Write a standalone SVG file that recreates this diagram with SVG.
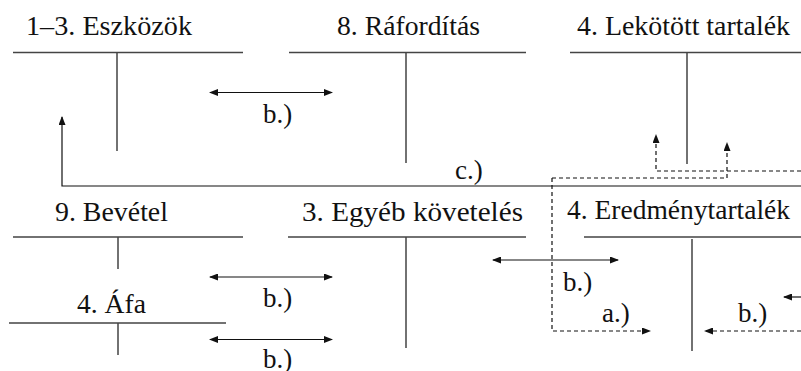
<svg xmlns="http://www.w3.org/2000/svg" width="801" height="371" viewBox="0 0 801 371" font-family="Liberation Serif, DejaVu Serif, Times New Roman, serif">
<style>
text{fill:#111}
.h{font-size:28px}
.l{font-size:27px}
.t{stroke:#444;stroke-width:1.5;fill:none}
.a{stroke:#111;stroke-width:1.2;fill:none}
.d{stroke:#111;stroke-width:1.2;fill:none;stroke-dasharray:4 3}
</style>
<defs>
<marker id="ah" markerUnits="userSpaceOnUse" markerWidth="9" markerHeight="7" refX="8" refY="3.5" orient="auto-start-reverse">
<path d="M0,0 L9,3.5 L0,7 Z" fill="#111"/>
</marker>
</defs>
<rect width="801" height="371" fill="#fff"/>

<g id="eszkozok">
<text class="h" font-family="Liberation Serif, serif" x="26" y="35" textLength="166" lengthAdjust="spacingAndGlyphs">1–3. Eszközök</text>
<path class="t" d="M13,52.5 H243 M117,52.5 V151"/>
</g>
<g id="raforditas">
<text class="h" font-family="Liberation Serif, serif" x="337" y="35" textLength="143" lengthAdjust="spacingAndGlyphs">8. Ráfordítás</text>
<path class="t" d="M289,52.5 H526 M406,52.5 V163"/>
</g>
<g id="lekotott">
<text class="h" font-family="Liberation Serif, serif" x="577" y="35" textLength="213" lengthAdjust="spacingAndGlyphs">4. Lekötött tartalék</text>
<path class="t" d="M570,52.5 H801 M687,52.5 V164"/>
</g>
<g id="bevetel">
<text class="h" font-family="Liberation Serif, serif" x="55" y="221" textLength="113" lengthAdjust="spacingAndGlyphs">9. Bevétel</text>
<path class="t" d="M13,237 H243 M118,237 V269"/>
</g>
<g id="egyeb">
<text class="h" font-family="Liberation Serif, serif" x="302" y="221" textLength="221" lengthAdjust="spacingAndGlyphs">3. Egyéb követelés</text>
<path class="t" d="M288,237 H526 M406,237 V348"/>
</g>
<g id="eredmeny">
<text class="h" font-family="Liberation Serif, serif" x="567" y="219" textLength="223" lengthAdjust="spacingAndGlyphs">4. Eredménytartalék</text>
<path class="t" d="M584,237 H801 M692,239 V351"/>
</g>
<g id="afa">
<text class="h" font-family="Liberation Serif, serif" x="77" y="313" textLength="69" lengthAdjust="spacingAndGlyphs">4. Áfa</text>
<path class="t" d="M9,323 H226 M118,323 V355"/>
</g>

<g id="connectors">
<path class="a" d="M210,92.5 H332" marker-start="url(#ah)" marker-end="url(#ah)"/>
<path class="a" d="M210,277 H332" marker-start="url(#ah)" marker-end="url(#ah)"/>
<path class="a" d="M210,339.5 H332" marker-start="url(#ah)" marker-end="url(#ah)"/>
<path class="a" d="M493,260 H618" marker-start="url(#ah)" marker-end="url(#ah)"/>
<path class="a" d="M801,186 H62 V117" marker-end="url(#ah)"/>
<path class="a" d="M801,297 H784" marker-end="url(#ah)"/>
<path class="d" d="M552,178 H727 V143" marker-end="url(#ah)"/>
<path class="d" d="M801,171 H656 V135" marker-end="url(#ah)"/>
<path class="d" d="M552,178 V331 H650" marker-end="url(#ah)"/>
<path class="d" d="M801,331 H705" marker-end="url(#ah)"/>
<text class="l" font-family="Liberation Serif, serif" x="263" y="123">b.)</text>
<text class="l" font-family="Liberation Serif, serif" x="455" y="179">c.)</text>
<text class="l" font-family="Liberation Serif, serif" x="263" y="307">b.)</text>
<text class="l" font-family="Liberation Serif, serif" x="263" y="368">b.)</text>
<text class="l" font-family="Liberation Serif, serif" x="563" y="291">b.)</text>
<text class="l" font-family="Liberation Serif, serif" x="602" y="322">a.)</text>
<text class="l" font-family="Liberation Serif, serif" x="738" y="322">b.)</text>
</g>
</svg>
